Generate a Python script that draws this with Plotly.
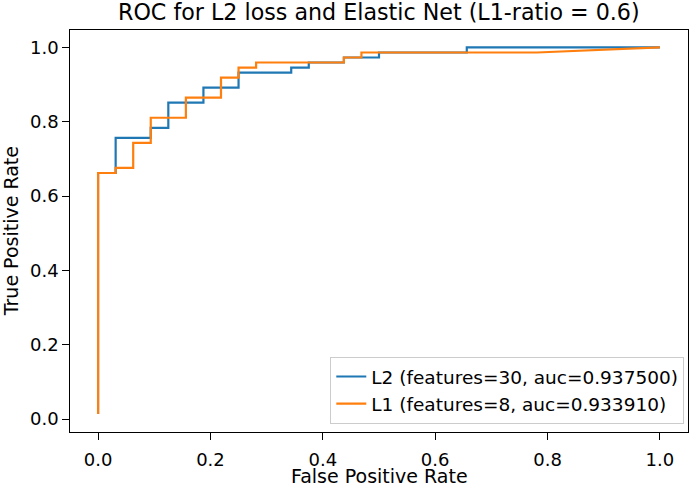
import plotly.graph_objects as go

# ROC points: 32 negatives, 74 positives
n_neg = 32
n_pos = 74

# L2 model: step vertices (false positives count, true positives count)
l2_fp = [0, 0, 1, 1, 3, 3, 4, 4, 6, 6, 8, 8, 11, 11, 12, 12, 14, 14, 16, 16, 21, 21, 32]
l2_tp = [1, 49, 49, 56, 56, 58, 58, 63, 63, 66, 66, 69, 69, 70, 70, 71, 71, 72, 72, 73, 73, 74, 74]

# L1 model
l1_fp = [0, 0, 1, 1, 2, 2, 3, 3, 5, 5, 7, 7, 8, 8, 9, 9, 14, 14, 15, 15, 25, 32]
l1_tp = [1, 49, 49, 50, 50, 55, 55, 60, 60, 64, 64, 68, 68, 70, 70, 71, 71, 72, 72, 73, 73, 74]

l2_name = "L2 (features=30, auc=0.937500)"
l1_name = "L1 (features=8, auc=0.933910)"

font = "DejaVu Sans"

fig = go.Figure()
fig.add_trace(go.Scatter(x=[v / n_neg for v in l2_fp], y=[v / n_pos for v in l2_tp],
                         mode="lines", name=l2_name,
                         line=dict(color="#1f77b4", width=2.2)))
fig.add_trace(go.Scatter(x=[v / n_neg for v in l1_fp], y=[v / n_pos for v in l1_tp],
                         mode="lines", name=l1_name,
                         line=dict(color="#ff7f0e", width=2.2)))

fig.update_layout(
    width=690, height=486,
    margin=dict(l=69.5, r=1.7, t=29.5, b=54.3, autoexpand=False),
    plot_bgcolor="white", paper_bgcolor="white",
    font=dict(family=font, size=18, color="black"),
    title=dict(text="ROC for L2 loss and Elastic Net (L1-ratio = 0.6)",
               x=0.549, xanchor="center", y=0.974, yanchor="middle",
               font=dict(size=22.2, color="black")),
    legend=dict(x=0.994, y=0.02, xanchor="right", yanchor="bottom",
                bgcolor="rgba(255,255,255,0.8)", bordercolor="#cccccc", borderwidth=1,
                font=dict(size=18.5)),
    showlegend=True,
)
# axis titles placed as annotations (plotly clamps title standoff inside fixed margins)
fig.add_annotation(text="False Positive Rate", xref="paper", yref="paper",
                   x=0.5, y=-0.109, xanchor="center", yanchor="middle",
                   showarrow=False, font=dict(size=19))
fig.add_annotation(text="True Positive Rate", xref="paper", yref="paper",
                   x=-0.095, y=0.5, xanchor="center", yanchor="middle",
                   textangle=-90, showarrow=False, font=dict(size=19))
fig.update_xaxes(range=[-0.05, 1.05], tickvals=[0, 0.2, 0.4, 0.6, 0.8, 1.0],
                 ticktext=["0.0", "0.2", "0.4", "0.6", "0.8", "1.0"],
                 showgrid=False, zeroline=False, showline=True, mirror=True,
                 linecolor="black", linewidth=1.3, ticks="outside", ticklen=6.5,
                 tickwidth=1.3, tickcolor="black", automargin=False,
                 ticklabelstandoff=5)
fig.update_yaxes(range=[-0.035, 1.047], tickvals=[0, 0.2, 0.4, 0.6, 0.8, 1.0],
                 ticktext=["0.0", "0.2", "0.4", "0.6", "0.8", "1.0"],
                 showgrid=False, zeroline=False, showline=True, mirror=True,
                 linecolor="black", linewidth=1.3, ticks="outside", ticklen=6.5,
                 tickwidth=1.3, tickcolor="black", automargin=False)

# page body margin would shift the figure by 8px
fig.write_html("out.html", config={"displayModeBar": False},
               post_script="document.body.style.margin='0';")
